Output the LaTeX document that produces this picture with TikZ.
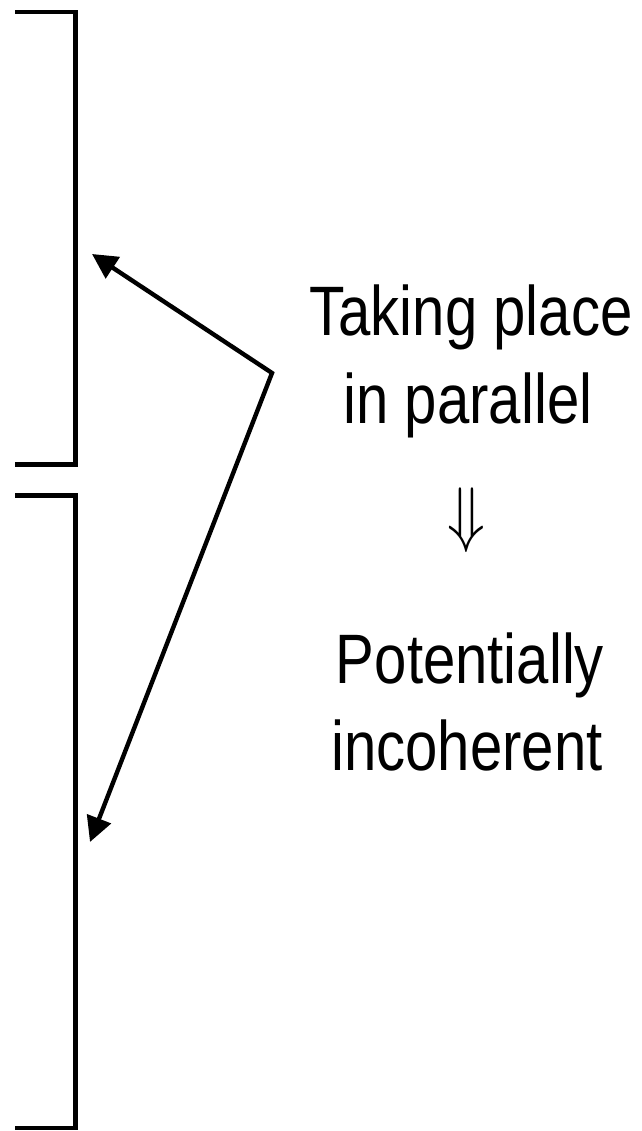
\documentclass[tikz,border=0pt]{standalone}
\usepackage{graphicx}
\usepackage{fontspec}
\setmainfont[FakeStretch=0.83]{Liberation Sans}
\usetikzlibrary{arrows.meta}
\tikzset{
  bracket/.style={line width=4.5pt, line join=miter},
  pointer/.style={line width=4.4pt, line join=miter, {Triangle[length=25pt,width=25pt]}-{Triangle[length=25pt,width=25pt]}},
  label/.style={inner sep=0pt, anchor=base, font=\fontsize{70pt}{88pt}\selectfont},
  implies/.style={inner sep=0pt}
}
\begin{document}
\begin{tikzpicture}[x=1pt,y=-1pt]
\useasboundingbox (0,0) rectangle (641,1131);
% brackets
\coordinate (b1a) at (15,12);
\coordinate (b1b) at (75.5,464.5);
\coordinate (b1c) at (15,464.5);
\coordinate (b2a) at (15,495.5);
\coordinate (b2b) at (75.5,1128);
\coordinate (b2c) at (15,1128);
\draw[bracket] (b1a) -| (b1b) -- (b1c);
\draw[bracket] (b2a) -| (b2b) -- (b2c);
% pointers
\coordinate (src) at (272,373);
\coordinate (tip1) at (92,254);
\coordinate (tip2) at (90,842);
\draw[pointer] (tip1) -- (src) -- (tip2);
% text
\node[label] (l1) at (471,335) {Taking place};
\node[label] (l2) at (468,423) {in parallel};
\node[implies] (imp) at (466,520.5) {\scalebox{6.2}[7.3]{$\Downarrow$}};
\node[label] (l3) at (470,683) {Potentially};
\node[label] (l4) at (467,770) {incoherent};
\end{tikzpicture}
\end{document}
